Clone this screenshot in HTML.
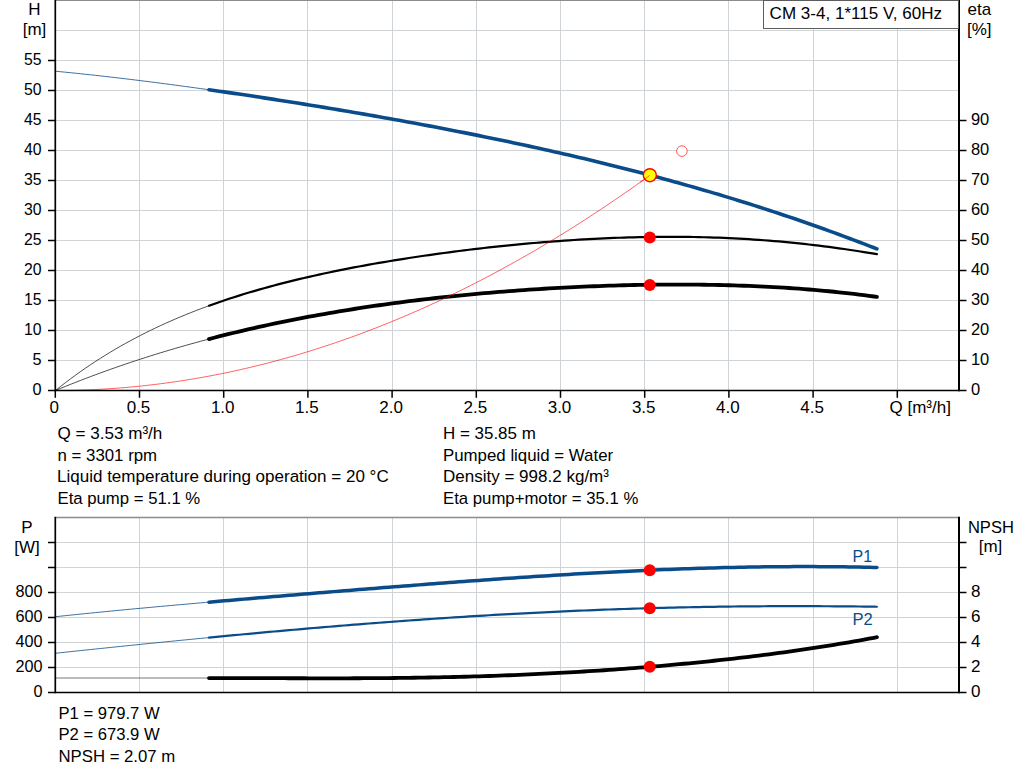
<!DOCTYPE html>
<html><head><meta charset="utf-8"><title>CM 3-4 pump curve</title>
<style>html,body{margin:0;padding:0;background:#fff;}body{width:1024px;height:781px;overflow:hidden;}svg{display:block;}text{font-family:"Liberation Sans",sans-serif;font-size:17px;fill:#000;}</style>
</head><body>
<svg width="1024" height="781" viewBox="0 0 1024 781">
<rect x="0" y="0" width="1024" height="781" fill="#ffffff"/>
<g stroke="#d1d4d7" stroke-width="1" fill="none" shape-rendering="crispEdges">
<line x1="139.5" y1="0" x2="139.5" y2="390.5"/>
<line x1="139.5" y1="517.5" x2="139.5" y2="692.5"/>
<line x1="223.5" y1="0" x2="223.5" y2="390.5"/>
<line x1="223.5" y1="517.5" x2="223.5" y2="692.5"/>
<line x1="307.5" y1="0" x2="307.5" y2="390.5"/>
<line x1="307.5" y1="517.5" x2="307.5" y2="692.5"/>
<line x1="392.5" y1="0" x2="392.5" y2="390.5"/>
<line x1="392.5" y1="517.5" x2="392.5" y2="692.5"/>
<line x1="476.5" y1="0" x2="476.5" y2="390.5"/>
<line x1="476.5" y1="517.5" x2="476.5" y2="692.5"/>
<line x1="560.5" y1="0" x2="560.5" y2="390.5"/>
<line x1="560.5" y1="517.5" x2="560.5" y2="692.5"/>
<line x1="644.5" y1="0" x2="644.5" y2="390.5"/>
<line x1="644.5" y1="517.5" x2="644.5" y2="692.5"/>
<line x1="728.5" y1="0" x2="728.5" y2="390.5"/>
<line x1="728.5" y1="517.5" x2="728.5" y2="692.5"/>
<line x1="813.5" y1="0" x2="813.5" y2="390.5"/>
<line x1="813.5" y1="517.5" x2="813.5" y2="692.5"/>
<line x1="897.5" y1="0" x2="897.5" y2="390.5"/>
<line x1="897.5" y1="517.5" x2="897.5" y2="692.5"/>
<line x1="55.3" y1="360.5" x2="959.0" y2="360.5"/>
<line x1="55.3" y1="330.5" x2="959.0" y2="330.5"/>
<line x1="55.3" y1="300.5" x2="959.0" y2="300.5"/>
<line x1="55.3" y1="270.5" x2="959.0" y2="270.5"/>
<line x1="55.3" y1="240.5" x2="959.0" y2="240.5"/>
<line x1="55.3" y1="210.5" x2="959.0" y2="210.5"/>
<line x1="55.3" y1="180.5" x2="959.0" y2="180.5"/>
<line x1="55.3" y1="150.5" x2="959.0" y2="150.5"/>
<line x1="55.3" y1="120.5" x2="959.0" y2="120.5"/>
<line x1="55.3" y1="90.5" x2="959.0" y2="90.5"/>
<line x1="55.3" y1="60.5" x2="959.0" y2="60.5"/>
<line x1="55.3" y1="30.5" x2="959.0" y2="30.5"/>
<line x1="55.3" y1="667.5" x2="959.0" y2="667.5"/>
<line x1="55.3" y1="642.5" x2="959.0" y2="642.5"/>
<line x1="55.3" y1="617.5" x2="959.0" y2="617.5"/>
<line x1="55.3" y1="592.5" x2="959.0" y2="592.5"/>
<line x1="55.3" y1="567.5" x2="959.0" y2="567.5"/>
<line x1="55.3" y1="542.5" x2="959.0" y2="542.5"/>
</g>
<line x1="55.3" y1="0.5" x2="959.0" y2="0.5" stroke="#8c8c8c" stroke-width="1.2"/>
<line x1="55.3" y1="517.5" x2="959.0" y2="517.5" stroke="#8c8c8c" stroke-width="1.4"/>
<path d="M55.3,71.20 L60.3,71.69 L65.3,72.18 L70.3,72.68 L75.3,73.19 L80.3,73.71 L85.3,74.25 L90.3,74.78 L95.3,75.33 L100.3,75.89 L105.3,76.45 L110.3,77.03 L115.3,77.61 L120.3,78.19 L125.3,78.79 L130.3,79.39 L135.3,80.00 L140.3,80.62 L145.3,81.24 L150.3,81.88 L155.3,82.51 L160.3,83.16 L165.3,83.81 L170.3,84.47 L175.3,85.13 L180.3,85.80 L185.3,86.47 L190.3,87.16 L195.3,87.84 L200.3,88.54 L205.3,89.24 L210.3,89.94 L211.0,90.04" fill="none" stroke="#0a4c8a" stroke-width="0.8"/>
<path d="M209.0,89.76 L214.0,90.46 L219.0,91.18 L224.0,91.90 L229.0,92.62 L234.0,93.35 L239.0,94.09 L244.0,94.83 L249.0,95.58 L254.0,96.33 L259.0,97.08 L264.0,97.85 L269.0,98.61 L274.0,99.38 L279.0,100.16 L284.0,100.94 L289.0,101.73 L294.0,102.52 L299.0,103.32 L304.0,104.12 L309.0,104.93 L314.0,105.74 L319.0,106.56 L324.0,107.38 L329.0,108.20 L334.0,109.04 L339.0,109.87 L344.0,110.72 L349.0,111.57 L354.0,112.42 L359.0,113.28 L364.0,114.14 L369.0,115.01 L374.0,115.89 L379.0,116.77 L384.0,117.65 L389.0,118.54 L394.0,119.44 L399.0,120.34 L404.0,121.25 L409.0,122.17 L414.0,123.09 L419.0,124.02 L424.0,124.95 L429.0,125.89 L434.0,126.83 L439.0,127.79 L444.0,128.74 L449.0,129.71 L454.0,130.68 L459.0,131.66 L464.0,132.64 L469.0,133.64 L474.0,134.64 L479.0,135.64 L484.0,136.66 L489.0,137.68 L494.0,138.70 L499.0,139.74 L504.0,140.78 L509.0,141.84 L514.0,142.89 L519.0,143.96 L524.0,145.04 L529.0,146.12 L534.0,147.21 L539.0,148.31 L544.0,149.42 L549.0,150.54 L554.0,151.66 L559.0,152.80 L564.0,153.94 L569.0,155.10 L574.0,156.26 L579.0,157.43 L584.0,158.61 L589.0,159.80 L594.0,161.01 L599.0,162.22 L604.0,163.44 L609.0,164.67 L614.0,165.91 L619.0,167.16 L624.0,168.42 L629.0,169.70 L634.0,170.98 L639.0,172.28 L644.0,173.58 L649.0,174.90 L654.0,176.23 L659.0,177.57 L664.0,178.92 L669.0,180.29 L674.0,181.66 L679.0,183.05 L684.0,184.45 L689.0,185.86 L694.0,187.28 L699.0,188.72 L704.0,190.17 L709.0,191.63 L714.0,193.11 L719.0,194.59 L724.0,196.10 L729.0,197.61 L734.0,199.14 L739.0,200.68 L744.0,202.23 L749.0,203.80 L754.0,205.38 L759.0,206.98 L764.0,208.59 L769.0,210.21 L774.0,211.85 L779.0,213.51 L784.0,215.17 L789.0,216.86 L794.0,218.55 L799.0,220.26 L804.0,221.99 L809.0,223.73 L814.0,225.49 L819.0,227.26 L824.0,229.05 L829.0,230.85 L834.0,232.67 L839.0,234.50 L844.0,236.35 L849.0,238.22 L854.0,240.10 L859.0,241.99 L864.0,243.91 L869.0,245.84 L874.0,247.78 L876.9,248.92" fill="none" stroke="#0a4c8a" stroke-width="3.6" stroke-linecap="round"/>
<path d="M55.3,390.58 L60.3,386.61 L65.3,382.75 L70.3,378.98 L75.3,375.32 L80.3,371.75 L85.3,368.27 L90.3,364.88 L95.3,361.58 L100.3,358.37 L105.3,355.24 L110.3,352.19 L115.3,349.22 L120.3,346.33 L125.3,343.51 L130.3,340.77 L135.3,338.10 L140.3,335.49 L145.3,332.95 L150.3,330.48 L155.3,328.07 L160.3,325.73 L165.3,323.44 L170.3,321.21 L175.3,319.04 L180.3,316.92 L185.3,314.85 L190.3,312.84 L195.3,310.87 L200.3,308.96 L205.3,307.09 L210.3,305.27 L211.0,305.01" fill="none" stroke="#222" stroke-width="0.8"/>
<path d="M209.0,305.74 L214.0,303.95 L219.0,302.20 L224.0,300.50 L229.0,298.83 L234.0,297.21 L239.0,295.62 L244.0,294.07 L249.0,292.56 L254.0,291.08 L259.0,289.64 L264.0,288.23 L269.0,286.85 L274.0,285.50 L279.0,284.18 L284.0,282.89 L289.0,281.63 L294.0,280.40 L299.0,279.19 L304.0,278.01 L309.0,276.85 L314.0,275.72 L319.0,274.61 L324.0,273.53 L329.0,272.46 L334.0,271.42 L339.0,270.40 L344.0,269.40 L349.0,268.42 L354.0,267.45 L359.0,266.51 L364.0,265.58 L369.0,264.68 L374.0,263.79 L379.0,262.91 L384.0,262.06 L389.0,261.22 L394.0,260.39 L399.0,259.59 L404.0,258.79 L409.0,258.01 L414.0,257.25 L419.0,256.50 L424.0,255.77 L429.0,255.05 L434.0,254.34 L439.0,253.65 L444.0,252.97 L449.0,252.31 L454.0,251.66 L459.0,251.02 L464.0,250.39 L469.0,249.78 L474.0,249.18 L479.0,248.60 L484.0,248.02 L489.0,247.46 L494.0,246.92 L499.0,246.38 L504.0,245.86 L509.0,245.36 L514.0,244.86 L519.0,244.38 L524.0,243.92 L529.0,243.46 L534.0,243.02 L539.0,242.60 L544.0,242.18 L549.0,241.78 L554.0,241.40 L559.0,241.03 L564.0,240.67 L569.0,240.33 L574.0,240.00 L579.0,239.69 L584.0,239.39 L589.0,239.11 L594.0,238.84 L599.0,238.59 L604.0,238.35 L609.0,238.13 L614.0,237.93 L619.0,237.74 L624.0,237.57 L629.0,237.42 L634.0,237.28 L639.0,237.16 L644.0,237.05 L649.0,236.97 L654.0,236.90 L659.0,236.85 L664.0,236.82 L669.0,236.80 L674.0,236.81 L679.0,236.83 L684.0,236.87 L689.0,236.93 L694.0,237.01 L699.0,237.11 L704.0,237.23 L709.0,237.37 L714.0,237.53 L719.0,237.70 L724.0,237.90 L729.0,238.12 L734.0,238.36 L739.0,238.62 L744.0,238.91 L749.0,239.21 L754.0,239.53 L759.0,239.88 L764.0,240.24 L769.0,240.63 L774.0,241.04 L779.0,241.47 L784.0,241.92 L789.0,242.39 L794.0,242.89 L799.0,243.40 L804.0,243.94 L809.0,244.50 L814.0,245.08 L819.0,245.68 L824.0,246.31 L829.0,246.95 L834.0,247.62 L839.0,248.30 L844.0,249.01 L849.0,249.74 L854.0,250.49 L859.0,251.26 L864.0,252.05 L869.0,252.86 L874.0,253.70 L876.9,254.19" fill="none" stroke="#000" stroke-width="2.2" stroke-linecap="round"/>
<path d="M55.3,390.53 L60.3,388.47 L65.3,386.44 L70.3,384.44 L75.3,382.47 L80.3,380.52 L85.3,378.60 L90.3,376.70 L95.3,374.83 L100.3,372.99 L105.3,371.18 L110.3,369.39 L115.3,367.63 L120.3,365.89 L125.3,364.17 L130.3,362.49 L135.3,360.82 L140.3,359.19 L145.3,357.57 L150.3,355.98 L155.3,354.42 L160.3,352.87 L165.3,351.35 L170.3,349.86 L175.3,348.39 L180.3,346.94 L185.3,345.51 L190.3,344.10 L195.3,342.72 L200.3,341.36 L205.3,340.02 L210.3,338.70 L211.0,338.52" fill="none" stroke="#222" stroke-width="0.8"/>
<path d="M209.0,339.04 L214.0,337.74 L219.0,336.46 L224.0,335.20 L229.0,333.96 L234.0,332.74 L239.0,331.54 L244.0,330.36 L249.0,329.20 L254.0,328.05 L259.0,326.93 L264.0,325.83 L269.0,324.75 L274.0,323.68 L279.0,322.64 L284.0,321.61 L289.0,320.60 L294.0,319.60 L299.0,318.63 L304.0,317.67 L309.0,316.73 L314.0,315.80 L319.0,314.90 L324.0,314.01 L329.0,313.13 L334.0,312.27 L339.0,311.43 L344.0,310.61 L349.0,309.80 L354.0,309.00 L359.0,308.22 L364.0,307.46 L369.0,306.71 L374.0,305.97 L379.0,305.25 L384.0,304.54 L389.0,303.85 L394.0,303.17 L399.0,302.51 L404.0,301.86 L409.0,301.22 L414.0,300.60 L419.0,299.99 L424.0,299.39 L429.0,298.81 L434.0,298.24 L439.0,297.68 L444.0,297.13 L449.0,296.60 L454.0,296.08 L459.0,295.57 L464.0,295.08 L469.0,294.59 L474.0,294.12 L479.0,293.66 L484.0,293.21 L489.0,292.78 L494.0,292.35 L499.0,291.94 L504.0,291.54 L509.0,291.15 L514.0,290.77 L519.0,290.40 L524.0,290.05 L529.0,289.70 L534.0,289.37 L539.0,289.05 L544.0,288.73 L549.0,288.43 L554.0,288.14 L559.0,287.87 L564.0,287.60 L569.0,287.34 L574.0,287.10 L579.0,286.86 L584.0,286.64 L589.0,286.43 L594.0,286.23 L599.0,286.04 L604.0,285.86 L609.0,285.69 L614.0,285.54 L619.0,285.39 L624.0,285.26 L629.0,285.13 L634.0,285.02 L639.0,284.92 L644.0,284.84 L649.0,284.76 L654.0,284.70 L659.0,284.65 L664.0,284.61 L669.0,284.58 L674.0,284.56 L679.0,284.56 L684.0,284.57 L689.0,284.59 L694.0,284.63 L699.0,284.68 L704.0,284.74 L709.0,284.81 L714.0,284.90 L719.0,285.01 L724.0,285.12 L729.0,285.25 L734.0,285.40 L739.0,285.56 L744.0,285.73 L749.0,285.92 L754.0,286.13 L759.0,286.35 L764.0,286.59 L769.0,286.84 L774.0,287.11 L779.0,287.40 L784.0,287.70 L789.0,288.02 L794.0,288.36 L799.0,288.72 L804.0,289.10 L809.0,289.49 L814.0,289.90 L819.0,290.34 L824.0,290.79 L829.0,291.26 L834.0,291.76 L839.0,292.27 L844.0,292.81 L849.0,293.36 L854.0,293.95 L859.0,294.55 L864.0,295.17 L869.0,295.82 L874.0,296.50 L876.9,296.90" fill="none" stroke="#000" stroke-width="3.8" stroke-linecap="round"/>
<path d="M55.3,390.50 L60.3,390.48 L65.3,390.44 L70.3,390.36 L75.3,390.26 L80.3,390.12 L85.3,389.95 L90.3,389.75 L95.3,389.53 L100.3,389.27 L105.3,388.98 L110.3,388.66 L115.3,388.31 L120.3,387.93 L125.3,387.52 L130.3,387.08 L135.3,386.60 L140.3,386.10 L145.3,385.57 L150.3,385.01 L155.3,384.41 L160.3,383.79 L165.3,383.13 L170.3,382.45 L175.3,381.73 L180.3,380.99 L185.3,380.21 L190.3,379.41 L195.3,378.57 L200.3,377.70 L205.3,376.80 L210.3,375.88 L215.3,374.92 L220.3,373.93 L225.3,372.91 L230.3,371.86 L235.3,370.78 L240.3,369.67 L245.3,368.53 L250.3,367.35 L255.3,366.15 L260.3,364.92 L265.3,363.66 L270.3,362.36 L275.3,361.04 L280.3,359.68 L285.3,358.30 L290.3,356.88 L295.3,355.44 L300.3,353.96 L305.3,352.46 L310.3,350.92 L315.3,349.35 L320.3,347.75 L325.3,346.13 L330.3,344.47 L335.3,342.78 L340.3,341.06 L345.3,339.31 L350.3,337.53 L355.3,335.72 L360.3,333.88 L365.3,332.00 L370.3,330.10 L375.3,328.17 L380.3,326.21 L385.3,324.21 L390.3,322.19 L395.3,320.13 L400.3,318.05 L405.3,315.93 L410.3,313.79 L415.3,311.61 L420.3,309.41 L425.3,307.17 L430.3,304.90 L435.3,302.60 L440.3,300.27 L445.3,297.92 L450.3,295.53 L455.3,293.11 L460.3,290.66 L465.3,288.18 L470.3,285.67 L475.3,283.12 L480.3,280.55 L485.3,277.95 L490.3,275.32 L495.3,272.65 L500.3,269.96 L505.3,267.24 L510.3,264.48 L515.3,261.70 L520.3,258.88 L525.3,256.04 L530.3,253.16 L535.3,250.25 L540.3,247.32 L545.3,244.35 L550.3,241.35 L555.3,238.32 L560.3,235.27 L565.3,232.18 L570.3,229.06 L575.3,225.91 L580.3,222.73 L585.3,219.51 L590.3,216.27 L595.3,213.00 L600.3,209.70 L605.3,206.37 L610.3,203.00 L615.3,199.61 L620.3,196.19 L625.3,192.73 L630.3,189.25 L635.3,185.73 L640.3,182.19 L645.3,178.61 L649.8,175.40" fill="none" stroke="#ff0000" stroke-width="0.62"/>
<path d="M55.3,616.73 L60.3,616.20 L65.3,615.67 L70.3,615.15 L75.3,614.63 L80.3,614.12 L85.3,613.61 L90.3,613.11 L95.3,612.61 L100.3,612.12 L105.3,611.63 L110.3,611.14 L115.3,610.66 L120.3,610.18 L125.3,609.71 L130.3,609.23 L135.3,608.76 L140.3,608.30 L145.3,607.84 L150.3,607.38 L155.3,606.92 L160.3,606.46 L165.3,606.01 L170.3,605.56 L175.3,605.11 L180.3,604.67 L185.3,604.22 L190.3,603.78 L195.3,603.34 L200.3,602.90 L205.3,602.46 L210.3,602.03 L211.0,601.97" fill="none" stroke="#0a4c8a" stroke-width="0.8"/>
<path d="M209.0,602.14 L214.0,601.71 L219.0,601.27 L224.0,600.84 L229.0,600.41 L234.0,599.98 L239.0,599.55 L244.0,599.13 L249.0,598.70 L254.0,598.28 L259.0,597.86 L264.0,597.43 L269.0,597.01 L274.0,596.59 L279.0,596.17 L284.0,595.76 L289.0,595.34 L294.0,594.92 L299.0,594.51 L304.0,594.09 L309.0,593.68 L314.0,593.27 L319.0,592.86 L324.0,592.45 L329.0,592.04 L334.0,591.63 L339.0,591.22 L344.0,590.82 L349.0,590.41 L354.0,590.01 L359.0,589.60 L364.0,589.20 L369.0,588.80 L374.0,588.40 L379.0,588.01 L384.0,587.61 L389.0,587.21 L394.0,586.82 L399.0,586.43 L404.0,586.04 L409.0,585.65 L414.0,585.26 L419.0,584.87 L424.0,584.49 L429.0,584.10 L434.0,583.72 L439.0,583.34 L444.0,582.97 L449.0,582.59 L454.0,582.22 L459.0,581.85 L464.0,581.48 L469.0,581.11 L474.0,580.75 L479.0,580.39 L484.0,580.03 L489.0,579.67 L494.0,579.32 L499.0,578.97 L504.0,578.62 L509.0,578.28 L514.0,577.94 L519.0,577.60 L524.0,577.26 L529.0,576.93 L534.0,576.60 L539.0,576.28 L544.0,575.96 L549.0,575.64 L554.0,575.33 L559.0,575.02 L564.0,574.71 L569.0,574.41 L574.0,574.11 L579.0,573.82 L584.0,573.53 L589.0,573.25 L594.0,572.97 L599.0,572.69 L604.0,572.42 L609.0,572.16 L614.0,571.90 L619.0,571.64 L624.0,571.39 L629.0,571.15 L634.0,570.91 L639.0,570.67 L644.0,570.44 L649.0,570.22 L654.0,570.00 L659.0,569.79 L664.0,569.59 L669.0,569.39 L674.0,569.19 L679.0,569.01 L684.0,568.83 L689.0,568.65 L694.0,568.48 L699.0,568.32 L704.0,568.17 L709.0,568.02 L714.0,567.88 L719.0,567.74 L724.0,567.62 L729.0,567.50 L734.0,567.38 L739.0,567.28 L744.0,567.18 L749.0,567.09 L754.0,567.00 L759.0,566.93 L764.0,566.86 L769.0,566.80 L774.0,566.75 L779.0,566.70 L784.0,566.66 L789.0,566.64 L794.0,566.61 L799.0,566.60 L804.0,566.60 L809.0,566.60 L814.0,566.61 L819.0,566.63 L824.0,566.66 L829.0,566.70 L834.0,566.74 L839.0,566.80 L844.0,566.86 L849.0,566.93 L854.0,567.01 L859.0,567.10 L864.0,567.19 L869.0,567.30 L874.0,567.41 L876.9,567.49" fill="none" stroke="#0a4c8a" stroke-width="3.5" stroke-linecap="round"/>
<path d="M55.3,653.27 L60.3,652.74 L65.3,652.21 L70.3,651.68 L75.3,651.15 L80.3,650.62 L85.3,650.09 L90.3,649.57 L95.3,649.05 L100.3,648.52 L105.3,648.00 L110.3,647.48 L115.3,646.97 L120.3,646.45 L125.3,645.94 L130.3,645.42 L135.3,644.91 L140.3,644.40 L145.3,643.89 L150.3,643.39 L155.3,642.88 L160.3,642.38 L165.3,641.88 L170.3,641.38 L175.3,640.88 L180.3,640.39 L185.3,639.90 L190.3,639.40 L195.3,638.92 L200.3,638.43 L205.3,637.94 L210.3,637.46 L211.0,637.39" fill="none" stroke="#0a4c8a" stroke-width="0.8"/>
<path d="M209.0,637.59 L214.0,637.11 L219.0,636.63 L224.0,636.15 L229.0,635.68 L234.0,635.20 L239.0,634.74 L244.0,634.27 L249.0,633.80 L254.0,633.34 L259.0,632.88 L264.0,632.43 L269.0,631.97 L274.0,631.52 L279.0,631.07 L284.0,630.63 L289.0,630.18 L294.0,629.74 L299.0,629.31 L304.0,628.87 L309.0,628.44 L314.0,628.01 L319.0,627.59 L324.0,627.17 L329.0,626.75 L334.0,626.33 L339.0,625.92 L344.0,625.51 L349.0,625.10 L354.0,624.70 L359.0,624.30 L364.0,623.91 L369.0,623.52 L374.0,623.13 L379.0,622.74 L384.0,622.36 L389.0,621.98 L394.0,621.61 L399.0,621.24 L404.0,620.87 L409.0,620.51 L414.0,620.15 L419.0,619.80 L424.0,619.45 L429.0,619.10 L434.0,618.76 L439.0,618.42 L444.0,618.08 L449.0,617.75 L454.0,617.42 L459.0,617.10 L464.0,616.78 L469.0,616.47 L474.0,616.16 L479.0,615.85 L484.0,615.55 L489.0,615.26 L494.0,614.96 L499.0,614.67 L504.0,614.39 L509.0,614.11 L514.0,613.84 L519.0,613.57 L524.0,613.30 L529.0,613.04 L534.0,612.78 L539.0,612.53 L544.0,612.29 L549.0,612.04 L554.0,611.81 L559.0,611.57 L564.0,611.35 L569.0,611.12 L574.0,610.90 L579.0,610.69 L584.0,610.48 L589.0,610.28 L594.0,610.08 L599.0,609.88 L604.0,609.69 L609.0,609.51 L614.0,609.33 L619.0,609.16 L624.0,608.99 L629.0,608.82 L634.0,608.66 L639.0,608.51 L644.0,608.36 L649.0,608.21 L654.0,608.07 L659.0,607.94 L664.0,607.81 L669.0,607.68 L674.0,607.56 L679.0,607.45 L684.0,607.34 L689.0,607.23 L694.0,607.13 L699.0,607.04 L704.0,606.95 L709.0,606.86 L714.0,606.78 L719.0,606.71 L724.0,606.63 L729.0,606.57 L734.0,606.51 L739.0,606.45 L744.0,606.40 L749.0,606.36 L754.0,606.31 L759.0,606.28 L764.0,606.25 L769.0,606.22 L774.0,606.20 L779.0,606.18 L784.0,606.17 L789.0,606.16 L794.0,606.16 L799.0,606.16 L804.0,606.16 L809.0,606.17 L814.0,606.19 L819.0,606.20 L824.0,606.23 L829.0,606.26 L834.0,606.29 L839.0,606.32 L844.0,606.36 L849.0,606.41 L854.0,606.46 L859.0,606.51 L864.0,606.57 L869.0,606.63 L874.0,606.69 L876.9,606.73" fill="none" stroke="#0a4c8a" stroke-width="2.2" stroke-linecap="round"/>
<line x1="55.3" y1="678" x2="211.0" y2="678" stroke="#555" stroke-width="0.8"/>
<path d="M209.0,678.08 L214.0,678.07 L219.0,678.06 L224.0,678.06 L229.0,678.06 L234.0,678.07 L239.0,678.08 L244.0,678.09 L249.0,678.10 L254.0,678.11 L259.0,678.13 L264.0,678.14 L269.0,678.16 L274.0,678.18 L279.0,678.19 L284.0,678.21 L289.0,678.23 L294.0,678.24 L299.0,678.26 L304.0,678.27 L309.0,678.28 L314.0,678.29 L319.0,678.29 L324.0,678.30 L329.0,678.30 L334.0,678.30 L339.0,678.30 L344.0,678.29 L349.0,678.28 L354.0,678.26 L359.0,678.24 L364.0,678.22 L369.0,678.20 L374.0,678.17 L379.0,678.13 L384.0,678.09 L389.0,678.05 L394.0,678.00 L399.0,677.94 L404.0,677.88 L409.0,677.82 L414.0,677.75 L419.0,677.67 L424.0,677.59 L429.0,677.50 L434.0,677.41 L439.0,677.31 L444.0,677.21 L449.0,677.10 L454.0,676.98 L459.0,676.86 L464.0,676.73 L469.0,676.59 L474.0,676.45 L479.0,676.30 L484.0,676.14 L489.0,675.98 L494.0,675.81 L499.0,675.63 L504.0,675.45 L509.0,675.25 L514.0,675.06 L519.0,674.85 L524.0,674.64 L529.0,674.42 L534.0,674.19 L539.0,673.96 L544.0,673.72 L549.0,673.47 L554.0,673.21 L559.0,672.95 L564.0,672.68 L569.0,672.40 L574.0,672.11 L579.0,671.82 L584.0,671.52 L589.0,671.21 L594.0,670.89 L599.0,670.56 L604.0,670.23 L609.0,669.89 L614.0,669.54 L619.0,669.18 L624.0,668.82 L629.0,668.44 L634.0,668.06 L639.0,667.67 L644.0,667.27 L649.0,666.86 L654.0,666.44 L659.0,666.02 L664.0,665.58 L669.0,665.14 L674.0,664.69 L679.0,664.23 L684.0,663.76 L689.0,663.28 L694.0,662.79 L699.0,662.30 L704.0,661.79 L709.0,661.27 L714.0,660.75 L719.0,660.21 L724.0,659.66 L729.0,659.11 L734.0,658.54 L739.0,657.96 L744.0,657.37 L749.0,656.78 L754.0,656.17 L759.0,655.55 L764.0,654.92 L769.0,654.27 L774.0,653.62 L779.0,652.95 L784.0,652.28 L789.0,651.59 L794.0,650.88 L799.0,650.17 L804.0,649.44 L809.0,648.70 L814.0,647.95 L819.0,647.18 L824.0,646.40 L829.0,645.60 L834.0,644.79 L839.0,643.97 L844.0,643.13 L849.0,642.27 L854.0,641.40 L859.0,640.52 L864.0,639.62 L869.0,638.70 L874.0,637.76 L876.9,637.21" fill="none" stroke="#000" stroke-width="3.8" stroke-linecap="round"/>
<g stroke="#000" fill="none">
<line x1="55.3" y1="0" x2="55.3" y2="391.2" stroke-width="1.7"/>
<line x1="959.0" y1="0" x2="959.0" y2="391.2" stroke-width="2"/>
<line x1="48" y1="390.5" x2="966.5" y2="390.5" stroke-width="1.5"/>
<line x1="48" y1="360.5" x2="55" y2="360.5" stroke-width="1.5"/>
<line x1="48" y1="330.5" x2="55" y2="330.5" stroke-width="1.5"/>
<line x1="48" y1="300.5" x2="55" y2="300.5" stroke-width="1.5"/>
<line x1="48" y1="270.5" x2="55" y2="270.5" stroke-width="1.5"/>
<line x1="48" y1="240.5" x2="55" y2="240.5" stroke-width="1.5"/>
<line x1="48" y1="210.5" x2="55" y2="210.5" stroke-width="1.5"/>
<line x1="48" y1="180.5" x2="55" y2="180.5" stroke-width="1.5"/>
<line x1="48" y1="150.5" x2="55" y2="150.5" stroke-width="1.5"/>
<line x1="48" y1="120.5" x2="55" y2="120.5" stroke-width="1.5"/>
<line x1="48" y1="90.5" x2="55" y2="90.5" stroke-width="1.5"/>
<line x1="48" y1="60.5" x2="55" y2="60.5" stroke-width="1.5"/>
<line x1="959.0" y1="360.5" x2="966.5" y2="360.5" stroke-width="1.5"/>
<line x1="959.0" y1="330.5" x2="966.5" y2="330.5" stroke-width="1.5"/>
<line x1="959.0" y1="300.5" x2="966.5" y2="300.5" stroke-width="1.5"/>
<line x1="959.0" y1="270.5" x2="966.5" y2="270.5" stroke-width="1.5"/>
<line x1="959.0" y1="240.5" x2="966.5" y2="240.5" stroke-width="1.5"/>
<line x1="959.0" y1="210.5" x2="966.5" y2="210.5" stroke-width="1.5"/>
<line x1="959.0" y1="180.5" x2="966.5" y2="180.5" stroke-width="1.5"/>
<line x1="959.0" y1="150.5" x2="966.5" y2="150.5" stroke-width="1.5"/>
<line x1="959.0" y1="120.5" x2="966.5" y2="120.5" stroke-width="1.5"/>
<line x1="55.3" y1="390.5" x2="55.3" y2="397.8" stroke-width="1.5"/>
<line x1="139.5" y1="390.5" x2="139.5" y2="397.8" stroke-width="1.5"/>
<line x1="223.7" y1="390.5" x2="223.7" y2="397.8" stroke-width="1.5"/>
<line x1="307.9" y1="390.5" x2="307.9" y2="397.8" stroke-width="1.5"/>
<line x1="392.1" y1="390.5" x2="392.1" y2="397.8" stroke-width="1.5"/>
<line x1="476.3" y1="390.5" x2="476.3" y2="397.8" stroke-width="1.5"/>
<line x1="560.5" y1="390.5" x2="560.5" y2="397.8" stroke-width="1.5"/>
<line x1="644.7" y1="390.5" x2="644.7" y2="397.8" stroke-width="1.5"/>
<line x1="728.9" y1="390.5" x2="728.9" y2="397.8" stroke-width="1.5"/>
<line x1="813.1" y1="390.5" x2="813.1" y2="397.8" stroke-width="1.5"/>
<line x1="897.3" y1="390.5" x2="897.3" y2="397.8" stroke-width="1.5"/>
<line x1="55.3" y1="516.8" x2="55.3" y2="693.2" stroke-width="1.7"/>
<line x1="959.0" y1="516.8" x2="959.0" y2="693.2" stroke-width="2"/>
<line x1="48" y1="692.5" x2="966.5" y2="692.5" stroke-width="1.5"/>
<line x1="48" y1="667.5" x2="55" y2="667.5" stroke-width="1.5"/>
<line x1="959.0" y1="667.5" x2="966.5" y2="667.5" stroke-width="1.5"/>
<line x1="48" y1="642.5" x2="55" y2="642.5" stroke-width="1.5"/>
<line x1="959.0" y1="642.5" x2="966.5" y2="642.5" stroke-width="1.5"/>
<line x1="48" y1="617.5" x2="55" y2="617.5" stroke-width="1.5"/>
<line x1="959.0" y1="617.5" x2="966.5" y2="617.5" stroke-width="1.5"/>
<line x1="48" y1="592.5" x2="55" y2="592.5" stroke-width="1.5"/>
<line x1="959.0" y1="592.5" x2="966.5" y2="592.5" stroke-width="1.5"/>
<line x1="48" y1="567.5" x2="55" y2="567.5" stroke-width="1.5"/>
<line x1="959.0" y1="567.5" x2="966.5" y2="567.5" stroke-width="1.5"/>
<line x1="48" y1="542.5" x2="55" y2="542.5" stroke-width="1.5"/>
<line x1="959.0" y1="542.5" x2="966.5" y2="542.5" stroke-width="1.5"/>
</g>
<circle cx="681.9" cy="151.1" r="5.3" fill="#fff" stroke="#ff4545" stroke-width="0.9"/>
<circle cx="649.85" cy="175.2" r="6.5" fill="#ffff00" stroke="#ff0000" stroke-width="1.4"/>
<path d="M640,182.40 L649.75,175.40" fill="none" stroke="#ff0000" stroke-width="0.62"/>
<circle cx="649.75" cy="237.5" r="6" fill="#ff0000"/>
<circle cx="649.75" cy="285" r="6" fill="#ff0000"/>
<circle cx="649.75" cy="570.25" r="6" fill="#ff0000"/>
<circle cx="649.75" cy="608.25" r="6" fill="#ff0000"/>
<circle cx="649.75" cy="666.75" r="6" fill="#ff0000"/>
<rect x="763.5" y="0.5" width="195" height="28" fill="#fff" stroke="#5c5c5c" stroke-width="1" shape-rendering="crispEdges"/>
<g>
<text x="34.5" y="14.8" text-anchor="middle">H</text>
<text x="34.5" y="34.5" text-anchor="middle">[m]</text>
<text transform="translate(41.5 395.4) scale(0.96 1)" text-anchor="end">0</text>
<text transform="translate(41.5 365.4) scale(0.96 1)" text-anchor="end">5</text>
<text transform="translate(41.5 335.4) scale(0.93 1)" text-anchor="end">10</text>
<text transform="translate(41.5 305.4) scale(0.93 1)" text-anchor="end">15</text>
<text transform="translate(41.5 275.4) scale(0.93 1)" text-anchor="end">20</text>
<text transform="translate(41.5 245.4) scale(0.93 1)" text-anchor="end">25</text>
<text transform="translate(41.5 215.4) scale(0.93 1)" text-anchor="end">30</text>
<text transform="translate(41.5 185.4) scale(0.93 1)" text-anchor="end">35</text>
<text transform="translate(41.5 155.4) scale(0.93 1)" text-anchor="end">40</text>
<text transform="translate(41.5 125.4) scale(0.93 1)" text-anchor="end">45</text>
<text transform="translate(41.5 95.4) scale(0.93 1)" text-anchor="end">50</text>
<text transform="translate(41.5 65.4) scale(0.93 1)" text-anchor="end">55</text>
<text transform="translate(970.9 395.4) scale(0.97 1)">0</text>
<text transform="translate(970.9 365.4) scale(0.97 1)">10</text>
<text transform="translate(970.9 335.4) scale(0.97 1)">20</text>
<text transform="translate(970.9 305.4) scale(0.97 1)">30</text>
<text transform="translate(970.9 275.4) scale(0.97 1)">40</text>
<text transform="translate(970.9 245.4) scale(0.97 1)">50</text>
<text transform="translate(970.9 215.4) scale(0.97 1)">60</text>
<text transform="translate(970.9 185.4) scale(0.97 1)">70</text>
<text transform="translate(970.9 155.4) scale(0.97 1)">80</text>
<text transform="translate(970.9 125.4) scale(0.97 1)">90</text>
<text x="967.5" y="14.8">eta</text>
<text x="967" y="34.5">[%]</text>
<text x="54.3" y="413.2" text-anchor="middle">0</text>
<text x="138.5" y="413.2" text-anchor="middle">0.5</text>
<text x="222.7" y="413.2" text-anchor="middle">1.0</text>
<text x="306.9" y="413.2" text-anchor="middle">1.5</text>
<text x="391.1" y="413.2" text-anchor="middle">2.0</text>
<text x="475.3" y="413.2" text-anchor="middle">2.5</text>
<text x="559.5" y="413.2" text-anchor="middle">3.0</text>
<text x="643.7" y="413.2" text-anchor="middle">3.5</text>
<text x="727.9" y="413.2" text-anchor="middle">4.0</text>
<text x="812.1" y="413.2" text-anchor="middle">4.5</text>
<text x="889.5" y="413.2">Q [m³/h]</text>
<text transform="translate(57.50 438.8) scale(1.0049 1)">Q = 3.53 m³/h</text>
<text transform="translate(57.51 460.5) scale(0.9899 1)">n = 3301 rpm</text>
<text transform="translate(57.00 482.1) scale(1.0015 1)">Liquid temperature during operation = 20 °C</text>
<text transform="translate(57.51 503.75) scale(0.9844 1)">Eta pump = 51.1 %</text>
<text transform="translate(443.00 438.8) scale(0.9973 1)">H = 35.85 m</text>
<text transform="translate(443.01 460.5) scale(0.9912 1)">Pumped liquid = Water</text>
<text transform="translate(443.00 482.1) scale(1.0015 1)">Density = 998.2 kg/m³</text>
<text transform="translate(443.02 503.75) scale(0.9848 1)">Eta pump+motor = 35.1 %</text>
<text transform="translate(58.52 719.3) scale(0.9782 1)">P1 = 979.7 W</text>
<text transform="translate(58.52 740.4) scale(0.9782 1)">P2 = 673.9 W</text>
<text transform="translate(58.51 761.9) scale(0.9850 1)">NPSH = 2.07 m</text>
<text transform="translate(769.60 19.1) scale(1.0026 1)">CM 3-4, 1*115 V, 60Hz</text>
<text x="27" y="532.5" text-anchor="middle">P</text>
<text x="27" y="552.5" text-anchor="middle">[W]</text>
<text transform="translate(42.5 697.4) scale(0.955 1)" text-anchor="end">0</text>
<text x="970.9" y="697.4">0</text>
<text transform="translate(42.5 672.4) scale(0.955 1)" text-anchor="end">200</text>
<text x="970.9" y="672.4">2</text>
<text transform="translate(42.5 647.4) scale(0.955 1)" text-anchor="end">400</text>
<text x="970.9" y="647.4">4</text>
<text transform="translate(42.5 622.4) scale(0.955 1)" text-anchor="end">600</text>
<text x="970.9" y="622.4">6</text>
<text transform="translate(42.5 597.4) scale(0.955 1)" text-anchor="end">800</text>
<text x="970.9" y="597.4">8</text>
<text transform="translate(967.9 533) scale(0.975 1)">NPSH</text>
<text x="978.7" y="552.3">[m]</text>
<text transform="translate(852.5 561.8) scale(0.94 1)" style="fill:#0a4c8a">P1</text>
<text transform="translate(852.5 624.5) scale(0.975 1)" style="fill:#0a4c8a">P2</text>
</g>
</svg></body></html>
